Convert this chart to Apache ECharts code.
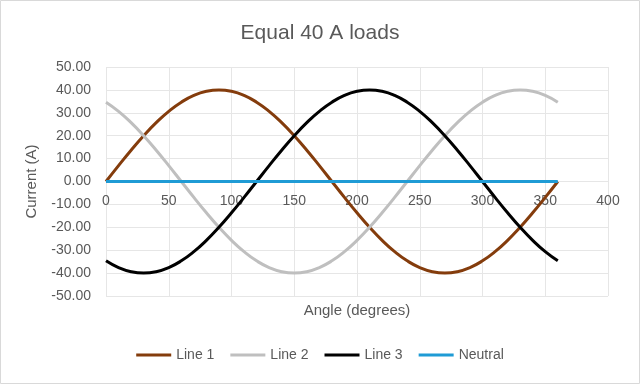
<!DOCTYPE html>
<html><head><meta charset="utf-8">
<script src="https://cdn.jsdelivr.net/npm/echarts@6/dist/echarts.min.js"></script>
<style>html,body{margin:0;padding:0;background:#fff}#c{width:640px;height:384px}</style>
</head><body><div id="c"></div>
<script>
const angles = [0,10,20,30,40,50,60,70,80,90,100,110,120,130,140,150,160,170,180,190,200,210,220,230,240,250,260,270,280,290,300,310,320,330,340,350,360];
const line1 = [0,6.95,13.68,20,25.71,30.64,34.64,37.59,39.39,40,39.39,37.59,34.64,30.64,25.71,20,13.68,6.95,0,-6.95,-13.68,-20,-25.71,-30.64,-34.64,-37.59,-39.39,-40,-39.39,-37.59,-34.64,-30.64,-25.71,-20,-13.68,-6.95,0];
const line2 = [34.64,30.64,25.71,20,13.68,6.95,0,-6.95,-13.68,-20,-25.71,-30.64,-34.64,-37.59,-39.39,-40,-39.39,-37.59,-34.64,-30.64,-25.71,-20,-13.68,-6.95,0,6.95,13.68,20,25.71,30.64,34.64,37.59,39.39,40,39.39,37.59,34.64];
const line3 = [-34.64,-37.59,-39.39,-40,-39.39,-37.59,-34.64,-30.64,-25.71,-20,-13.68,-6.95,0,6.95,13.68,20,25.71,30.64,34.64,37.59,39.39,40,39.39,37.59,34.64,30.64,25.71,20,13.68,6.95,0,-6.95,-13.68,-20,-25.71,-30.64,-34.64];
const neutral = [0,0,0,0,0,0,0,0,0,0,0,0,0,0,0,0,0,0,0,0,0,0,0,0,0,0,0,0,0,0,0,0,0,0,0,0,0];
const seriesNames = ['Line 1','Line 2','Line 3','Neutral'];
const seriesData = [line1, line2, line3, neutral];
const colors = ['#843c0c','#bfbfbf','#000000','#1f9bd5'];
const FONT = 'Liberation Sans';
const TXT = '#595959';

const chart = echarts.init(document.getElementById('c'));
chart.setOption({
  animation:false,
  textStyle:{fontFamily:FONT,color:TXT},
  title:{text:'Equal 40 A loads',left:'center',top:18,textStyle:{fontFamily:FONT,fontSize:21,fontWeight:'normal',color:TXT}},
  graphic:[{type:'rect',shape:{x:0.5,y:0.5,width:639,height:383},style:{fill:null,stroke:'#d9d9d9',lineWidth:1},silent:true}],
  grid:{left:106,right:32,top:67,bottom:88,containLabel:false,outerBoundsMode:'none'},
  legend:{bottom:17,left:'center',icon:'rect',itemWidth:35,itemHeight:3,itemGap:16,
    textStyle:{fontFamily:FONT,fontSize:14,color:TXT},data:seriesNames},
  xAxis:{type:'value',min:0,max:400,interval:50,position:'bottom',offset:-114.5,
    name:'Angle (degrees)',nameLocation:'middle',nameGap:122,
    nameTextStyle:{fontFamily:FONT,fontSize:15,color:TXT,verticalAlign:'top'},
    axisLine:{show:true,onZero:false,lineStyle:{color:'#e6e6e6'}},axisTick:{show:false},
    axisLabel:{fontFamily:FONT,fontSize:14,color:TXT,margin:13},
    splitLine:{show:true,lineStyle:{color:'#e6e6e6',width:1}}},
  yAxis:{type:'value',min:-50,max:50,interval:10,
    name:'Current (A)',nameLocation:'middle',nameGap:67,
    nameTextStyle:{fontFamily:FONT,fontSize:15,color:TXT},
    axisLine:{show:false,onZero:false},axisTick:{show:false},
    axisLabel:{fontFamily:FONT,fontSize:14,color:TXT,margin:15,formatter:v=>v.toFixed(2)},
    splitLine:{show:true,lineStyle:{color:'#e6e6e6',width:1}}},
  series: seriesNames.map((n,i)=>({
    name:n,type:'line',smooth:true,showSymbol:false,symbol:'none',
    data: angles.map((a,j)=>[a,seriesData[i][j]]),
    lineStyle:{color:colors[i],width:3},itemStyle:{color:colors[i]}
  }))
});
</script></body></html>
